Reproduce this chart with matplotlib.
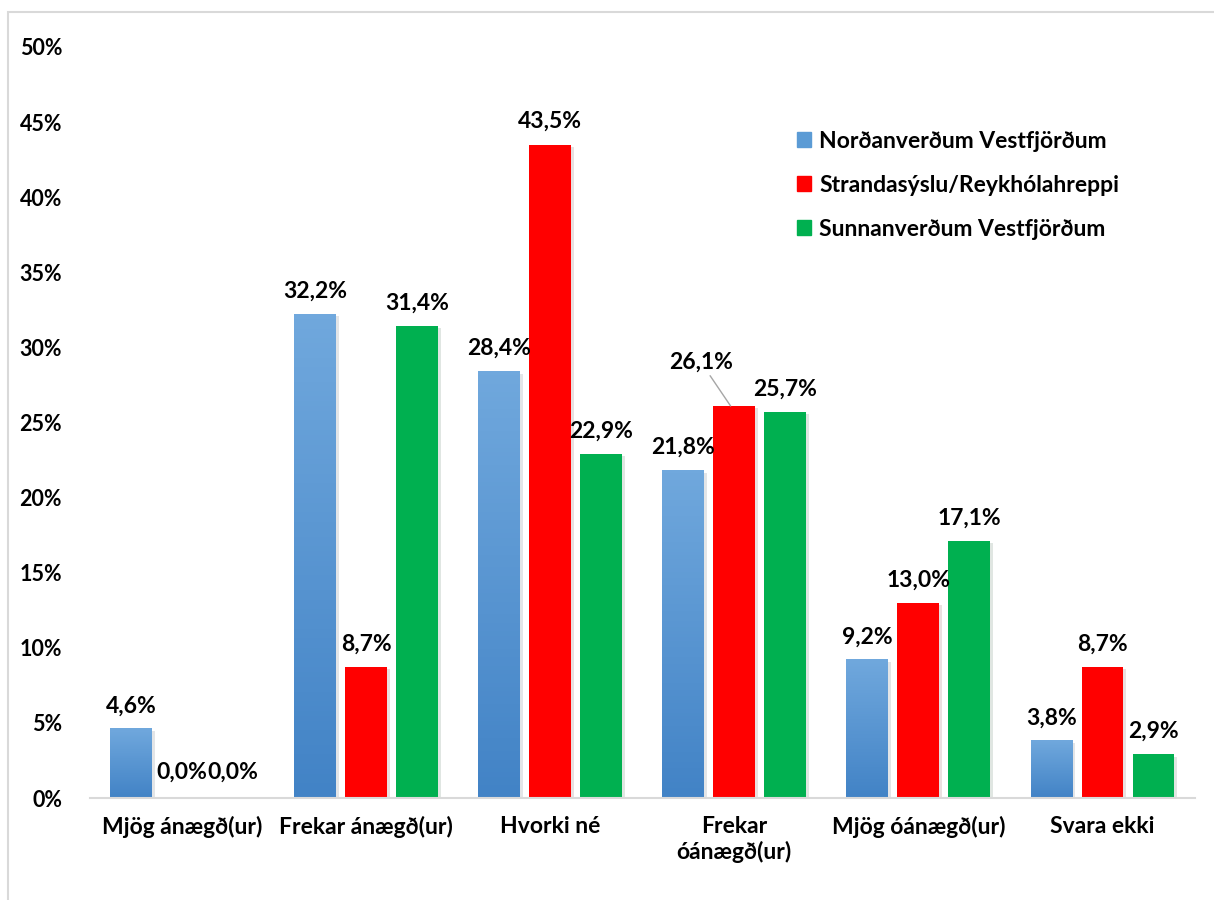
import matplotlib.pyplot as plt
import matplotlib.patheffects as pe
import numpy as np
from matplotlib.patches import Rectangle

categories = ["Mjög ánægð(ur)", "Frekar ánægð(ur)", "Hvorki né",
              "Frekar\nóánægð(ur)", "Mjög óánægð(ur)", "Svara ekki"]
series_names = ["Norðanverðum Vestfjörðum", "Strandasýslu/Reykhólahreppi",
                "Sunnanverðum Vestfjörðum"]
nordan = [4.6, 32.2, 28.4, 21.8, 9.2, 3.8]
strandir = [0.0, 8.7, 43.5, 26.1, 13.0, 8.7]
sunnan = [0.0, 31.4, 22.9, 25.7, 17.1, 2.9]

plt.rcParams["font.family"] = ["Lato", "DejaVu Sans"]
plt.rcParams["font.weight"] = "bold"

fig = plt.figure(figsize=(12.14, 9), dpi=100)
ax = fig.add_axes([0.074, 0.1133, 0.91, 0.8345])

x = np.arange(len(categories))
width = 0.227
step = 0.277
colors = ["#5b9bd5", "#ff0000", "#00b050"]
soft = pe.SimplePatchShadow(offset=(2, -1.5), alpha=0.12)
shadow = [soft, pe.Normal()]

ax.set_xlim(-0.5, len(categories) - 0.5)
ax.set_ylim(0, 50)

grad = np.linspace(0, 1, 100).reshape(-1, 1)
blue_cmap = plt.matplotlib.colors.LinearSegmentedColormap.from_list(
    "b", ["#4283c6", "#70a8dd"])

lbl = dict(fontsize=16.5, fontweight="bold")

all_vals = [nordan, strandir, sunnan]
for i, vals in enumerate(all_vals):
    pos = x + (i - 1) * step
    if i == 0:
        bars = ax.bar(pos, vals, width, color="#5b9bd5", edgecolor="none", zorder=2)
        for b in bars:
            b.set_path_effects([soft])
            x0, w, h = b.get_x(), b.get_width(), b.get_height()
            ax.imshow(grad, cmap=blue_cmap, extent=(x0, x0 + w, 0, h),
                      origin="lower", aspect="auto", zorder=3)
    else:
        ax.bar(pos, vals, width, color=colors[i], zorder=3, path_effects=shadow)
    for p, v in zip(pos, vals):
        txt = f"{v:.1f}%".replace(".", ",")
        if v == 0:
            ax.text(p, 1.0, txt, ha="center", va="bottom", zorder=5, **lbl)
        elif i == 1 and v == 26.1:
            ax.annotate(txt, xy=(p - 0.02, v), xytext=(p - 0.18, v + 2.2),
                        ha="center", va="bottom", **lbl,
                        arrowprops=dict(arrowstyle="-", color="#a6a6a6", lw=1,
                                        shrinkA=0, shrinkB=0))
        else:
            ax.annotate(txt, xy=(p, v), xytext=(0, 9), textcoords="offset points",
                        ha="center", va="bottom", zorder=5, **lbl)

ax.set_xticks(x)
ax.set_xticklabels(categories, fontsize=16.5, fontweight="bold")
ax.set_yticks(np.arange(0, 51, 5))
ax.set_yticklabels([f"{t}%" for t in range(0, 51, 5)], fontsize=15.5, fontweight="bold")
ax.tick_params(axis="both", length=0)
ax.tick_params(axis="y", pad=20)
ax.tick_params(axis="x", pad=13)
for s in ["top", "right", "left"]:
    ax.spines[s].set_visible(False)
ax.spines["bottom"].set_color("#d9d9d9")
ax.spines["bottom"].set_linewidth(1.5)
ax.spines["bottom"].set_zorder(4)

handles = [Rectangle((0, 0), 1, 1, color=c) for c in ["#5b9bd5", colors[1], colors[2]]]
ax.legend(handles, series_names, loc="upper left", bbox_to_anchor=(0.621, 0.916),
          frameon=False, handlelength=0.65, handleheight=0.65,
          handletextpad=0.35, labelspacing=1.0, prop={"weight": "bold", "size": 16.5})

fig.patches.append(Rectangle((8 / 1214, -0.01), 1.1, 1 - 12 / 900 + 0.01,
                             transform=fig.transFigure, fill=False,
                             edgecolor="#d9d9d9", lw=1.5))

fig.savefig("out.png", dpi=100)
